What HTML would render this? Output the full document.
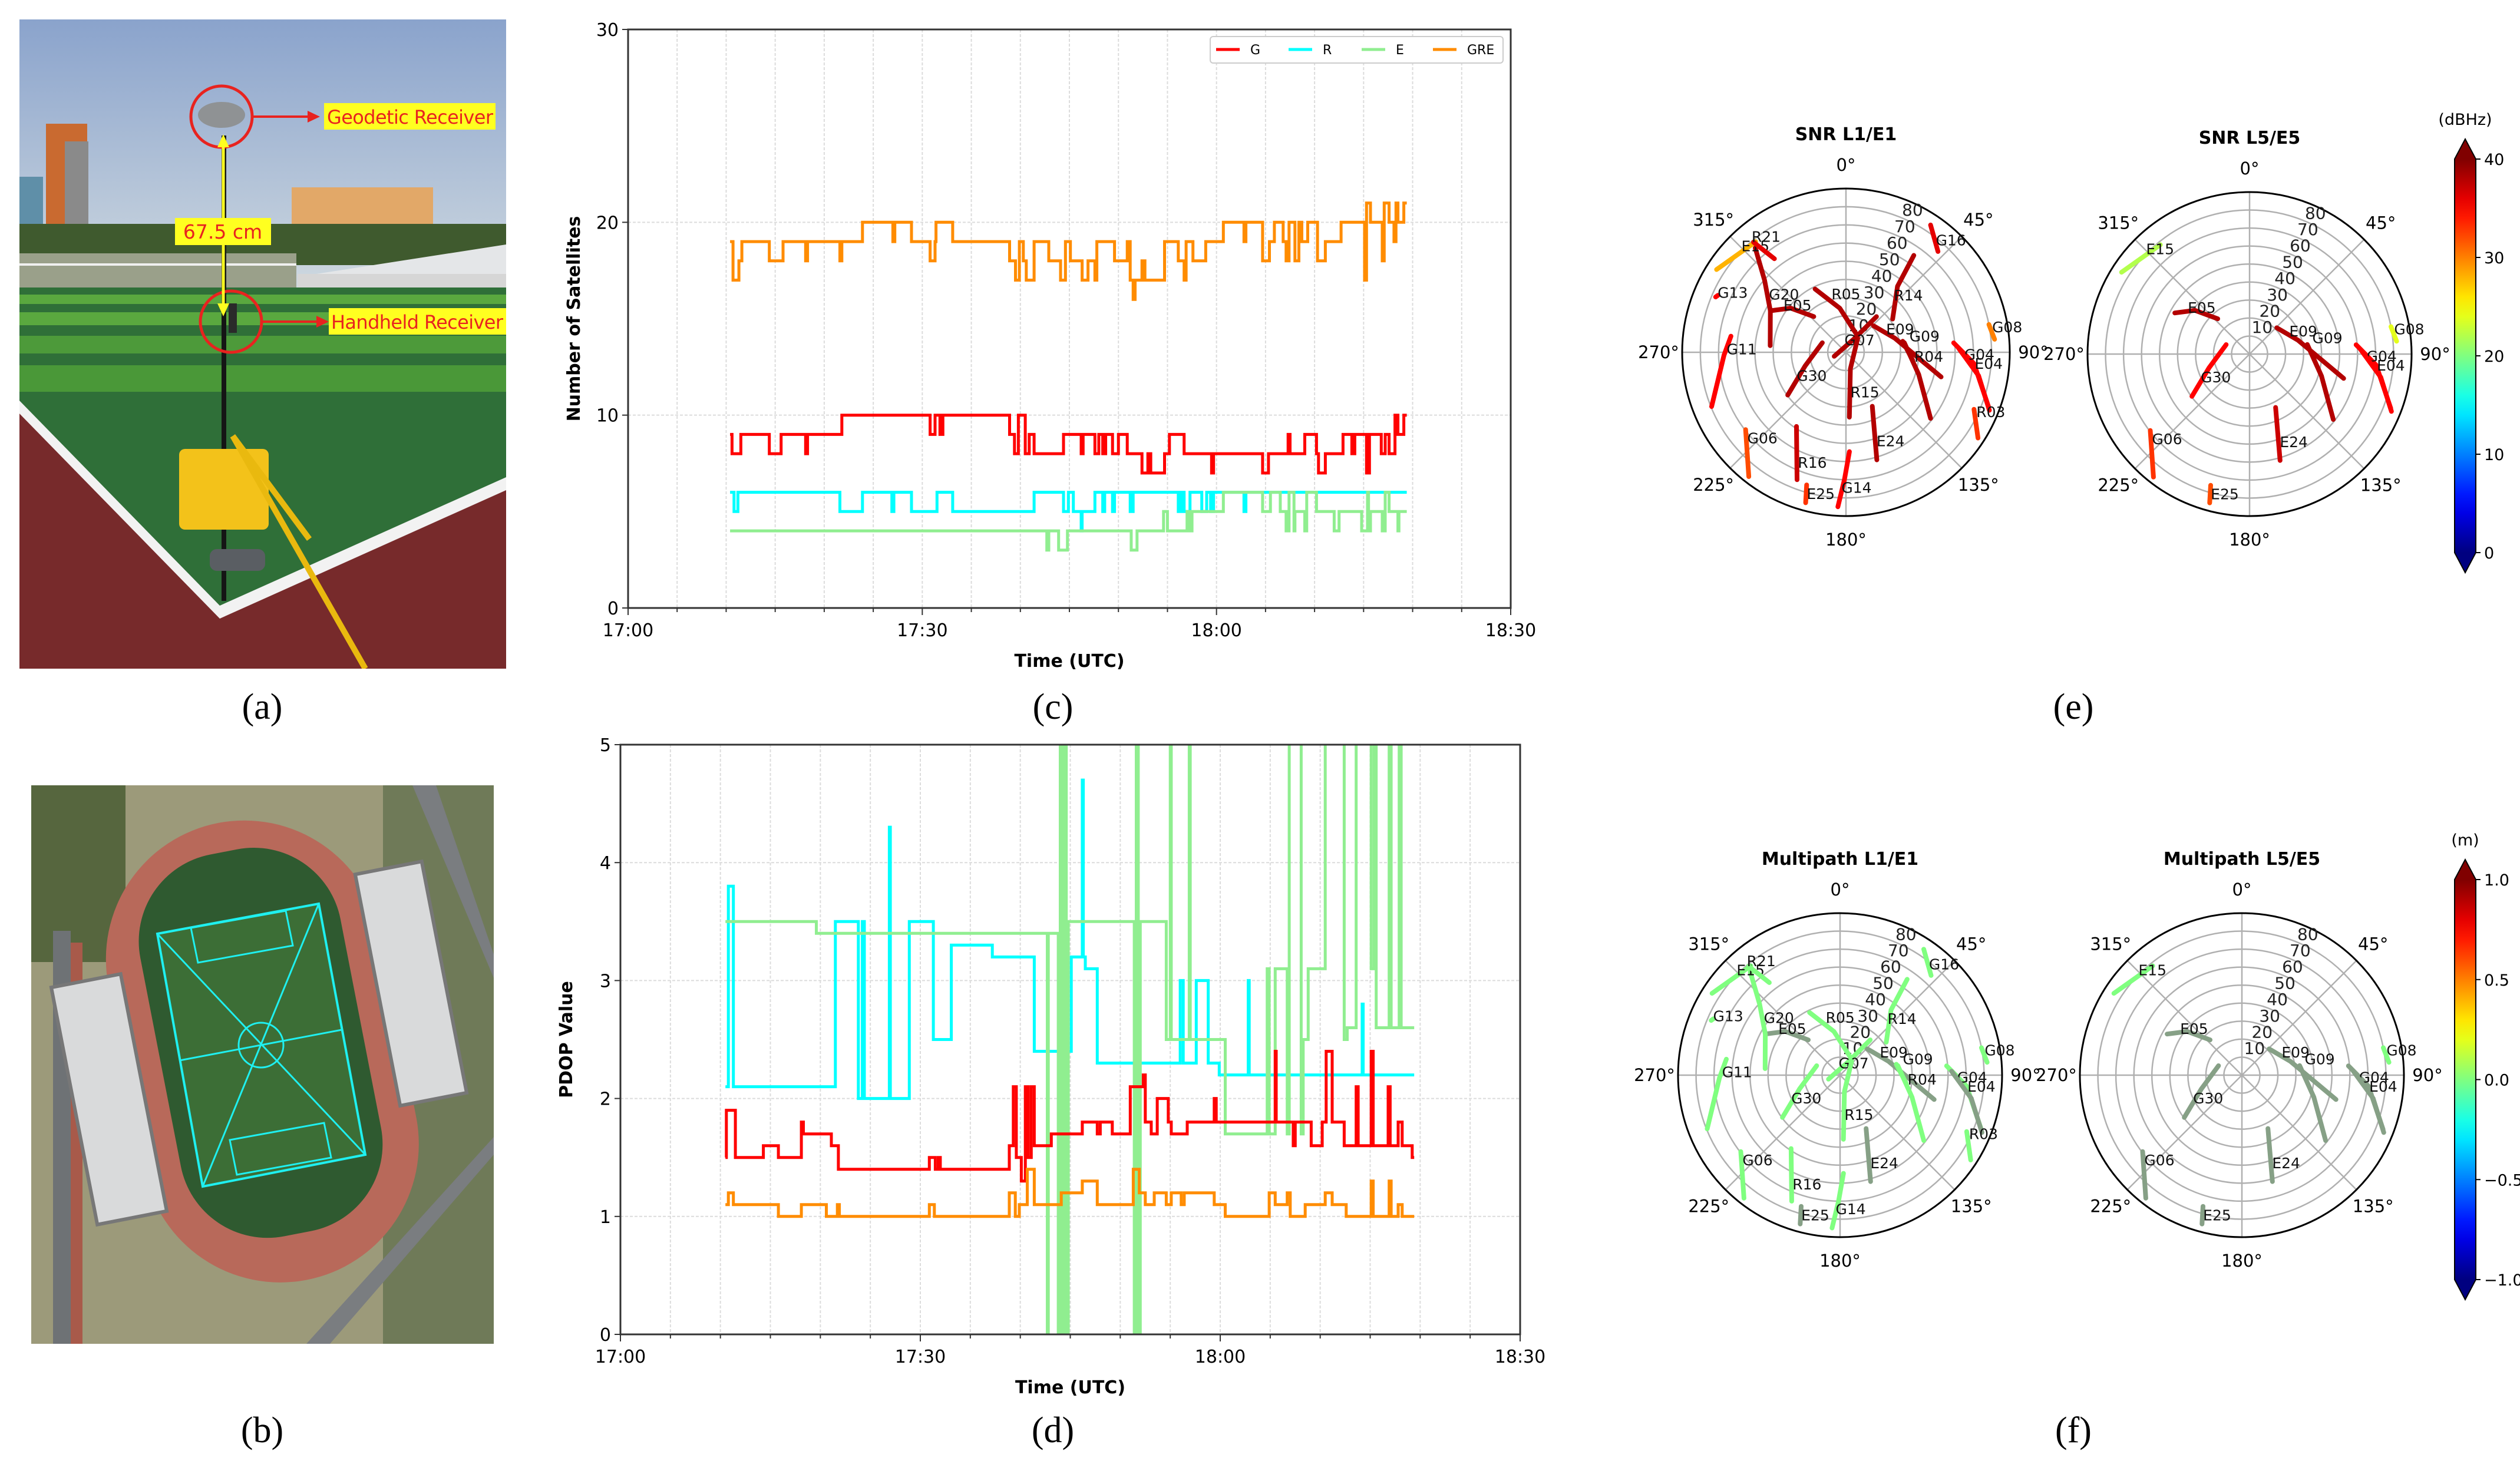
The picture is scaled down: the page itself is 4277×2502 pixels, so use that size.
<!DOCTYPE html>
<html><head><meta charset="utf-8"><style>
html,body{margin:0;padding:0;background:#fff}
svg{display:block}
text{font-family:"DejaVu Sans","Liberation Sans",sans-serif}
</style></head><body>
<svg id="fig" xmlns="http://www.w3.org/2000/svg" width="4277" height="2502" viewBox="0 0 4277 2502">
<defs>
<linearGradient id="sky" x1="0" y1="0" x2="0" y2="1"><stop offset="0" stop-color="#8aa3cc"/><stop offset="1" stop-color="#cfd9e0"/></linearGradient>
<clipPath id="clipA"><rect x="33" y="33" width="826" height="1102"/></clipPath>
<clipPath id="clipB"><rect x="53" y="1333" width="785" height="948"/></clipPath>
<clipPath id="clipC"><rect x="1066" y="50" width="1498" height="982"/></clipPath>
<clipPath id="clipD"><rect x="1053" y="1264" width="1527" height="1001"/></clipPath>
</defs>

<!-- Panel (a) photo -->
<g id="photo-a" clip-path="url(#clipA)">
<rect x="33" y="33" width="826" height="460" fill="url(#sky)"/>
<rect x="33" y="300" width="40" height="100" fill="#5f8fa8"/>
<rect x="78" y="210" width="70" height="185" fill="#c96a30"/>
<rect x="110" y="240" width="40" height="150" fill="#8a8a8a"/>
<rect x="495" y="318" width="240" height="80" fill="#e2a868"/>
<rect x="33" y="380" width="826" height="70" fill="#3f5a2e"/>
<rect x="33" y="430" width="470" height="60" fill="#9aa08a"/>
<rect x="33" y="447" width="470" height="4" fill="#f0f0f0"/>
<polygon points="505,470 859,415 859,493 505,493" fill="#e4e6e8"/>
<rect x="505" y="465" width="354" height="28" fill="#d6d6d6"/>
<rect x="33" y="488" width="826" height="647" fill="#2f6f38"/>
<rect x="33" y="500" width="826" height="16" fill="#5aa83f"/>
<rect x="33" y="530" width="826" height="22" fill="#5aa83f"/>
<rect x="33" y="570" width="826" height="30" fill="#4d9a3a"/>
<rect x="33" y="620" width="826" height="45" fill="#4a9838"/>
<polygon points="33,680 373,1028 859,810 859,1135 33,1135" fill="#f2f2f2"/>
<polygon points="33,702 373,1050 859,832 859,1135 33,1135" fill="#772a2b"/>
<rect x="376" y="230" width="8" height="790" fill="#151515"/>
<rect x="304" y="762" width="152" height="137" rx="10" fill="#f3c21a"/>
<rect x="356" y="932" width="94" height="37" rx="12" fill="#5a5e63"/>
<line x1="395" y1="740" x2="620" y2="1135" stroke="#e9b90f" stroke-width="10"/>
<line x1="395" y1="740" x2="525" y2="915" stroke="#e9b90f" stroke-width="10"/>
<ellipse cx="376" cy="195" rx="40" ry="22" fill="#8f9294"/>
<rect x="388" y="515" width="14" height="50" fill="#2a2a2a"/>
<circle cx="376" cy="198" r="52" fill="none" stroke="#e8231f" stroke-width="5"/>
<circle cx="392" cy="546" r="52" fill="none" stroke="#e8231f" stroke-width="5"/>
<line x1="379" y1="240" x2="379" y2="525" stroke="#ffff20" stroke-width="5"/>
<polygon points="379,228 369,250 389,250" fill="#ffff20"/>
<polygon points="379,537 369,515 389,515" fill="#ffff20"/>
<line x1="428" y1="198" x2="525" y2="198" stroke="#e8231f" stroke-width="4"/>
<polygon points="543,198 522,188 522,208" fill="#e8231f"/>
<line x1="445" y1="546" x2="540" y2="546" stroke="#e8231f" stroke-width="4"/>
<polygon points="558,546 537,536 537,556" fill="#e8231f"/>
<rect x="550" y="175" width="291" height="45" fill="#ffff20"/>
<text x="555" y="210" font-family="Liberation Sans" font-size="32" fill="#e8231f" textLength="282">Geodetic Receiver</text>
<rect x="297" y="370" width="163" height="46" fill="#ffff20"/>
<text x="378" y="405" font-family="Liberation Sans" font-size="33" fill="#e8231f" text-anchor="middle">67.5 cm</text>
<rect x="558" y="523" width="301" height="45" fill="#ffff20"/>
<text x="562" y="558" font-family="Liberation Sans" font-size="32" fill="#e8231f" textLength="292">Handheld Receiver</text>
</g>

<!-- Panel (b) aerial -->
<g id="photo-b" clip-path="url(#clipB)">
<rect x="53" y="1333" width="785" height="948" fill="#9c9a7a"/>
<rect x="53" y="1333" width="160" height="300" fill="#56663e"/>
<rect x="650" y="1333" width="188" height="948" fill="#6f7a58"/>
<polygon points="700,1333 740,1333 838,1620 838,1660" fill="#7a7d80"/>
<polygon points="520,2281 838,1930 838,1960 560,2281" fill="#7a7d80"/>
<rect x="90" y="1580" width="30" height="701" fill="#6e7275"/>
<rect x="120" y="1600" width="20" height="681" fill="#a85a4a"/>
<g transform="rotate(-11 443 1773)">
<rect x="208" y="1390" width="470" height="790" rx="235" fill="#b8695a"/>
<rect x="270" y="1440" width="346" height="660" rx="150" fill="#2f5a30"/>
</g>
<g transform="rotate(-11 443 1773)">
<rect x="112" y="1610" width="120" height="410" fill="#d9dadb" stroke="#777" stroke-width="6"/>
<rect x="655" y="1520" width="115" height="400" fill="#d9dadb" stroke="#777" stroke-width="6"/>
</g>
<polygon points="267,1585 541,1534 620,1960 344,2014" fill="#3c6e36" stroke="#1ff0f0" stroke-width="4"/>
<line x1="267" y1="1585" x2="620" y2="1960" stroke="#1ff0f0" stroke-width="3"/>
<line x1="541" y1="1534" x2="344" y2="2014" stroke="#1ff0f0" stroke-width="3"/>
<line x1="305" y1="1800" x2="580" y2="1748" stroke="#1ff0f0" stroke-width="3"/>
<circle cx="443" cy="1774" r="38" fill="none" stroke="#1ff0f0" stroke-width="3"/>
<polygon points="324,1575 485,1546 497,1605 336,1634" fill="none" stroke="#1ff0f0" stroke-width="3"/>
<polygon points="390,1935 550,1906 562,1965 402,1994" fill="none" stroke="#1ff0f0" stroke-width="3"/>
</g>

<!-- panel letters -->
<g font-family="Liberation Serif" font-size="62" text-anchor="middle" fill="#000">
<text x="445" y="1220" style="font-family:'Liberation Serif',serif">(a)</text>
<text x="445" y="2448" style="font-family:'Liberation Serif',serif">(b)</text>
<text x="1787" y="1220" style="font-family:'Liberation Serif',serif">(c)</text>
<text x="1787" y="2448" style="font-family:'Liberation Serif',serif">(d)</text>
<text x="3519" y="1220" style="font-family:'Liberation Serif',serif">(e)</text>
<text x="3519" y="2448" style="font-family:'Liberation Serif',serif">(f)</text>
</g>
<g id="charts"></g>
</svg>
<script>
// ---------- Chart (c): number of satellites (time in minutes after 17:00) ----------
const tEnd = 79.4;
const satG_t = [10.4,10.6,11.5,14.4,15.6,18.1,18.3,21.8,30.8,31.3,31.8,32.1,38.9,39.4,39.8,40.5,40.9,41.4,44.4,46.2,46.4,47.6,48.0,48.4,48.7,49.4,50.0,50.9,52.4,53.0,53.3,54.7,55.2,56.7,59.5,59.7,64.7,65.3,67.3,67.5,69.0,70.2,70.4,71.1,72.9,73.8,74.1,75.3,75.6,76.8,77.2,77.6,78.2,78.5,79.1];
const satG_v = [9,8,9,8,9,8,9,10,9,10,9,10,9,8,10,8,9,8,9,8,9,8,9,8,9,8,9,8,7,8,7,8,9,8,7,8,7,8,9,8,9,8,7,8,9,8,9,7,9,8,9,8,10,9,10];
const satR_t = [10.4,10.8,11.2,21.6,23.9,26.9,27.1,28.9,31.5,33.1,41.4,44.4,44.9,45.4,46.2,46.3,47.6,48.4,48.6,49.4,49.6,51.2,51.5,56.1,56.4,56.7,57.3,58.5,59.0,59.4,59.7,62.8,63.0];
const satR_v = [6,5,6,5,6,5,6,5,6,5,6,5,6,5,4,5,6,5,6,5,6,5,6,5,6,5,6,5,6,5,6,5,6];
const satE_t = [10.4,42.7,42.9,43.9,44.8,51.3,51.9,54.6,55.0,57.0,57.3,57.5,60.7,64.7,65.5,66.5,67.1,67.4,67.9,68.0,69.0,69.2,70.2,72.0,72.5,74.8,75.4,75.5,75.7,76.9,77.2,77.6,78.5,78.6];
const satE_v = [4,3,4,3,4,3,4,5,4,5,4,5,6,5,6,5,4,6,4,5,4,6,5,4,5,4,6,4,5,4,6,5,4,5];
const satGRE_t = [10.4,10.7,11.3,11.6,14.4,15.8,18.1,18.3,21.6,21.8,23.9,27.0,27.2,28.9,30.8,31.3,31.4,33.1,38.9,39.5,39.9,40.3,40.6,41.4,42.9,44.1,44.6,45.1,46.3,46.9,47.6,47.8,49.6,50.9,51.2,51.5,51.7,52.4,52.7,54.7,56.1,56.7,56.9,57.6,58.9,60.7,62.8,63.0,64.7,65.4,65.9,66.8,67.1,67.4,68.0,68.4,68.7,69.3,70.3,71.1,72.7,75.1,75.3,75.7,76.9,77.1,77.6,78.1,78.3,78.5,79.1];
const satGRE_v = [19,17,18,19,18,19,18,19,18,19,20,19,20,19,18,19,20,19,18,17,19,18,17,19,18,17,19,18,17,18,17,19,18,19,17,16,17,18,17,19,18,17,19,18,19,20,19,20,18,19,20,19,18,20,18,20,19,20,18,19,20,17,21,20,18,21,20,19,21,20,21];
const cYTicks = [0,10,20,30];
const xTickLabels = ["17:00","17:30","18:00","18:30"];
const xTickMinutes = [0,30,60,90];

// ---------- Chart (d): PDOP ----------
const pdG_t = [10.5,10.6,11.5,14.3,15.8,18.1,18.3,21.1,21.8,30.9,31.5,31.8,32.0,38.9,39.3,39.6,40.1,40.5,40.8,41.1,41.4,43.1,46.2,47.7,48.0,49.2,51.0,52.3,52.5,53.1,53.7,54.8,55.1,56.7,59.4,59.6,65.5,65.6,67.3,67.5,69.1,70.2,70.6,71.2,72.4,73.6,73.8,75.1,75.3,76.8,77.0,77.8,78.2,79.2];
const pdG_v = [1.5,1.9,1.5,1.6,1.5,1.8,1.7,1.6,1.4,1.5,1.4,1.5,1.4,1.6,2.1,1.5,1.3,2.1,1.5,2.1,1.6,1.7,1.8,1.7,1.8,1.7,2.1,2.2,1.8,1.7,2.0,1.8,1.7,1.8,2.0,1.8,2.4,1.8,1.6,1.8,1.6,1.8,2.4,1.8,1.6,2.1,1.6,2.4,1.6,2.1,1.6,1.8,1.6,1.5];
const pdR_t = [10.5,10.8,11.3,21.5,23.8,24.2,24.4,26.9,27.0,28.9,31.3,33.1,37.2,41.4,45.1,46.2,46.3,46.5,47.7,56.0,56.3,57.6,58.8,59.9,62.8,62.9,74.2,74.3];
const pdR_v = [2.1,3.8,2.1,3.5,2.0,3.5,2.0,4.3,2.0,3.5,2.5,3.3,3.2,2.4,3.2,4.7,3.2,3.1,2.3,3.0,2.3,3.0,2.3,2.2,3.0,2.2,2.8,2.2];
const pdE_t = [10.5,19.6,42.7,42.8,43.8,44.0,44.2,44.4,44.6,44.8,51.4,51.6,51.8,52.0,54.6,55.0,55.1,56.9,57.0,60.5,64.7,64.9,65.5,66.7,66.9,68.1,68.3,68.8,70.5,72.4,72.7,73.6,75.1,75.4,75.6,76.9,77.1,77.9,78.1];
const pdE_v = [3.5,3.4,0,3.4,0,9,0,9,0,3.5,0,9,0,3.5,2.5,9,2.5,9,2.5,1.7,3.1,1.7,3.1,1.7,9,1.7,2.5,3.1,9,2.5,2.6,9,3.1,9,2.6,9,2.6,9,2.6];
const pdGRE_t = [10.5,10.8,11.3,15.8,18.1,20.6,21.7,21.9,30.9,31.4,38.9,39.5,39.9,40.7,41.4,44.1,46.2,47.7,51.3,51.9,52.5,53.4,54.6,55.1,56.1,56.4,59.4,60.5,64.9,65.5,66.7,67.0,68.5,70.5,71.2,72.6,75.1,75.3,76.9,77.1,77.8,78.2];
const pdGRE_v = [1.1,1.2,1.1,1.0,1.1,1.0,1.1,1.0,1.1,1.0,1.2,1.0,1.1,1.4,1.1,1.2,1.3,1.1,1.4,1.2,1.1,1.2,1.1,1.2,1.1,1.2,1.1,1.0,1.2,1.1,1.2,1.0,1.1,1.2,1.1,1.0,1.3,1.0,1.3,1.0,1.1,1.0];
const dYTicks = [0,1,2,3,4,5];

// ---------- Skyplots (azimuth deg, radial value = ring label) ----------
const satNames = ["G16","R14","R05","G07","E09","G09","R04","G08","G04","E04","R03","E24","R15","G14","E25","R16","G06","G11","G13","G30","E05","G20","E15","R21"];
const satAz = [[33.6,42.4],[54.5,38,35],[334,352,35.5],[251,32,40.5],[46,74,104.5],[80.6,107,128],[79,97],[79,85],[85,95,111],[88,100,112],[114,123],[154,164],[40,165,177],[178,180.7,183],[196.5,195],[213.7,201],[232.4,218],[278,268.7,248],[293,294],[292,251.4,233.7],[298.8,308.6,318],[319,311.5,298.8,275],[302.6,320.8],[320,322.6]];
const satEl = [[84,75],[31.5,46,65],[38.7,24.5,11],[6.8,9,25.8],[21,28,54],[32.5,41.8,59],[31.8,37],[80,82],[59.4,70.6,84],[62,74,85],[77,86.5],[33,61.5],[10,9.4,35.7],[54.6,70,85],[76,85.6],[49,75],[69.6,86.7],[63.8,67,79.6],[77.8,77],[14,23.7,39.7],[47.4,38.9,26.4],[76,59.7,47.4,41.8],[84.4,78.4],[79,64.7]];
const labelAz = [38.7,40,346,353,59.8,75.6,93.4,80.2,91,95,114.5,161,173.7,181.9,195.5,203.6,229,271.6,295,244.7,307,307,315.5,320.8];
const labelEl = [79,41,33,6.8,25.5,36,37.6,81.5,65,71,78.7,51.6,22,74.3,80.6,66,71.8,65.6,77.8,30,43,53,82,82];
const snrL1 = [36,38,38,38,38,38,38,30,35,35,33,38,38,35,33,37,32,35,35,38,38,38,28,36];
const snrL5 = [null,null,null,null,38,38,null,24,35,35,null,37,null,null,32,null,33,null,null,35,38,null,22,null];
const mpL1 = [0.0,0.0,0.0,0.0,"mix",0.0,0.0,0.0,0.0,"mix",0.0,"mix",0.0,0.0,"mix",0.0,0.0,0.0,0.0,0.0,"mix",0.0,0.0,0.0];
const mpL5 = [null,null,null,null,"mix","mix",null,0.0,"mix","mix",null,"mix",null,null,"mix",null,"mix",null,null,"mix","mix",null,0.0,null];
const ringLabels = [10,20,30,40,50,60,70,80];
const snrTicks = [0,10,20,30,40];
const mpTicks = [-1.0,-0.5,0.0,0.5,1.0];

const NS = "http://www.w3.org/2000/svg";
const root = document.getElementById("charts");
function mk(tag, attrs, parent) {
  const e = document.createElementNS(NS, tag);
  for (const k in attrs) e.setAttribute(k, attrs[k]);
  (parent || root).appendChild(e);
  return e;
}
function clamp(v){return Math.max(0,Math.min(1,v));}
function jet(v){
  const r=clamp(1.5-Math.abs(4*v-3)), g=clamp(1.5-Math.abs(4*v-2)), b=clamp(1.5-Math.abs(4*v-1));
  return "rgb("+Math.round(r*255)+","+Math.round(g*255)+","+Math.round(b*255)+")";
}

function lineChart(cfg) {
  const g = mk("g", {});
  
  
  const X = t => cfg.x0 + t/90*(cfg.x1-cfg.x0);
  const Y = v => cfg.y1 - (v-cfg.ymin)/(cfg.ymax-cfg.ymin)*(cfg.y1-cfg.y0);
  mk("rect", {x:cfg.x0,y:cfg.y0,width:cfg.x1-cfg.x0,height:cfg.y1-cfg.y0,fill:"#fff"}, g);
  for (let m=0;m<=90;m+=5) {
    const gl = mk("line",{x1:X(m),x2:X(m),y1:cfg.y0,y2:cfg.y1,stroke:"#dcdcdc","stroke-width":2,"stroke-dasharray":"5,3"},g);
    
    
    mk("line",{x1:X(m),x2:X(m),y1:cfg.y1,y2:cfg.y1+(m%30===0?12:7),stroke:"#333","stroke-width":2},g);
  }
  cfg.yTicks.forEach(v=>{
    const gl = mk("line",{x1:cfg.x0,x2:cfg.x1,y1:Y(v),y2:Y(v),stroke:"#dcdcdc","stroke-width":2,"stroke-dasharray":"5,3"},g);
    
    
    mk("line",{x1:cfg.x0-10,x2:cfg.x0,y1:Y(v),y2:Y(v),stroke:"#333","stroke-width":2},g);
    const t = mk("text",{x:cfg.x0-16,y:Y(v)+11,"font-size":30,"text-anchor":"end",fill:"#000"},g);
    t.textContent = String(v);
    
    
  });
  xTickMinutes.forEach((m,i)=>{
    const t = mk("text",{x:X(m),y:cfg.y1+48,"font-size":30,"text-anchor":"middle",fill:"#000"},g);
    t.textContent = xTickLabels[i];
    
    
  });
  const cg = mk("g",{"clip-path":"url(#"+cfg.clip+")"},g);
  cfg.series.forEach(s=>{
    let d = "M"+X(s.t[0]).toFixed(1)+" "+Y(s.v[0]).toFixed(1);
    for (let i=1;i<s.t.length;i++){ d += " H"+X(s.t[i]).toFixed(1)+" V"+Y(s.v[i]).toFixed(1); }
    d += " H"+X(tEnd).toFixed(1);
    const p = mk("path",{d:d,fill:"none",stroke:s.color,"stroke-width":5,"stroke-linejoin":"miter"},cg);
    
    
  });
  mk("rect",{x:cfg.x0,y:cfg.y0,width:cfg.x1-cfg.x0,height:cfg.y1-cfg.y0,fill:"none",stroke:"#333","stroke-width":3},g);
  const xt = mk("text",{x:(cfg.x0+cfg.x1)/2,y:cfg.y1+100,"font-size":30,"font-weight":"bold","text-anchor":"middle"},g);
  xt.textContent = "Time (UTC)";
  
  
  const yx = cfg.x0-82, yy=(cfg.y0+cfg.y1)/2;
  const yt = mk("text",{x:yx,y:yy,"font-size":30,"font-weight":"bold","text-anchor":"middle",transform:"rotate(-90 "+yx+" "+yy+")"},g);
  yt.textContent = cfg.ytitle;
  
  
  return g;
}

const colG="#ff0000", colR="#00ffff", colE="#90ee90", colGRE="#ff8c00";
lineChart({name:"satellite-count-chart",x0:1066,x1:2564,y0:50,y1:1032,ymin:0,ymax:30,yTicks:cYTicks,clip:"clipC",ytitle:"Number of Satellites",
  series:[{name:"series-G",t:satG_t,v:satG_v,color:colG},{name:"series-R",t:satR_t,v:satR_v,color:colR},{name:"series-E",t:satE_t,v:satE_v,color:colE},{name:"series-GRE",t:satGRE_t,v:satGRE_v,color:colGRE}]});
lineChart({name:"pdop-chart",x0:1053,x1:2580,y0:1264,y1:2265,ymin:0,ymax:5,yTicks:dYTicks,clip:"clipD",ytitle:"PDOP Value",
  series:[{name:"pdop-R",t:pdR_t,v:pdR_v,color:colR},{name:"pdop-E",t:pdE_t,v:pdE_v,color:colE},{name:"pdop-G",t:pdG_t,v:pdG_v,color:colG},{name:"pdop-GRE",t:pdGRE_t,v:pdGRE_v,color:colGRE}]});

// legend
const lg = mk("g",{});


mk("rect",{x:2054,y:62,width:497,height:45,rx:5,fill:"#fff",stroke:"#ccc","stroke-width":2},lg);
const legNames=["G","R","E","GRE"], legCols=[colG,colR,colE,colGRE], legX=[2064,2187,2311,2432];
legNames.forEach((n,i)=>{
  const e = mk("g",{},lg);
  
  
  mk("line",{x1:legX[i],x2:legX[i]+40,y1:84,y2:84,stroke:legCols[i],"stroke-width":5},e);
  const t = mk("text",{x:legX[i]+58,y:92,"font-size":22},e);
  t.textContent=n;
});

// skyplots
function skyplot(cfg){
  const g = mk("g",{});
  
  
  const cx=cfg.cx, cy=cfg.cy, R=cfg.R;
  const P = (az,el)=>[cx+Math.sin(az*Math.PI/180)*el/90*R, cy-Math.cos(az*Math.PI/180)*el/90*R];
  mk("circle",{cx:cx,cy:cy,r:R,fill:"#fff"},g);
  ringLabels.forEach(v=>mk("circle",{cx:cx,cy:cy,r:v/90*R,fill:"none",stroke:"#b0b0b0","stroke-width":2.5},g));
  for(let a=0;a<360;a+=45){const p=P(a,90);mk("line",{x1:cx,y1:cy,x2:p[0],y2:p[1],stroke:"#b0b0b0","stroke-width":2.5},g);}
  mk("circle",{cx:cx,cy:cy,r:R,fill:"none",stroke:"#000","stroke-width":3},g);
  for(let a=0;a<360;a+=45){
    const p=P(a,90*(R+40)/R);
    const t=mk("text",{x:p[0],y:p[1]+10,"font-size":29,"text-anchor":"middle"},g);
    t.textContent=a+"°";
  }
  ringLabels.forEach(v=>{
    const p=P(25,v+20/R*90);
    const t=mk("text",{x:p[0],y:p[1]+10,"font-size":28,"text-anchor":"middle",fill:"#222"},g);
    t.textContent=String(v);
  });
  const tt=mk("text",{x:cx,y:cy-R-82,"font-size":30,"font-weight":"bold","text-anchor":"middle"},g);
  tt.textContent=cfg.title;
  
  
  satNames.forEach((n,i)=>{
    const val = cfg.values[i];
    if(val===null) return;
    const col = val==="mix" ? "#86a086" : jet((val-cfg.vmin)/(cfg.vmax-cfg.vmin));
    const pts = satAz[i].map((a,k)=>P(a,satEl[i][k]).map(z=>z.toFixed(1)).join(",")).join(" ");
    const pl = mk("polyline",{points:pts,fill:"none",stroke:col,"stroke-width":8,"stroke-linecap":"round","stroke-linejoin":"round"},g);
    
    
    const lp = P(labelAz[i],labelEl[i]);
    const t = mk("text",{x:lp[0],y:lp[1]+9,"font-size":25,fill:"#111"},g);
    t.textContent=n;
    
    
  });
}
skyplot({name:"snr-l1-skyplot",cx:3133,cy:598,R:278,title:"SNR L1/E1",values:snrL1,vmin:0,vmax:40});
skyplot({name:"snr-l5-skyplot",cx:3818,cy:601,R:275,title:"SNR L5/E5",values:snrL5,vmin:0,vmax:40});
skyplot({name:"multipath-l1-skyplot",cx:3123,cy:1825,R:275,title:"Multipath L1/E1",values:mpL1,vmin:-1,vmax:1});
skyplot({name:"multipath-l5-skyplot",cx:3805,cy:1825,R:275,title:"Multipath L5/E5",values:mpL5,vmin:-1,vmax:1});

function colorbar(cfg){
  const g=mk("g",{});
  
  
  const id="grad"+cfg.name;
  const lgd=mk("linearGradient",{id:id,x1:0,y1:1,x2:0,y2:0},g);
  for(let i=0;i<=20;i++) mk("stop",{offset:i/20,"stop-color":jet(i/20)},lgd);
  const x0=4166,x1=4202,w=x1-x0;
  mk("rect",{x:x0,y:cfg.top,width:w,height:cfg.bot-cfg.top,fill:"url(#"+id+")"},g);
  mk("polygon",{points:x0+","+cfg.top+" "+x1+","+cfg.top+" "+(x0+w/2)+","+(cfg.top-34),fill:"#800000"},g);
  mk("polygon",{points:x0+","+cfg.bot+" "+x1+","+cfg.bot+" "+(x0+w/2)+","+(cfg.bot+34),fill:"#000080"},g);
  mk("polygon",{points:x0+","+cfg.top+" "+(x0+w/2)+","+(cfg.top-34)+" "+x1+","+cfg.top+" "+x1+","+cfg.bot+" "+(x0+w/2)+","+(cfg.bot+34)+" "+x0+","+cfg.bot,fill:"none",stroke:"#000","stroke-width":2},g);
  cfg.ticks.forEach(v=>{
    const y=cfg.bot-(v-cfg.ticks[0])/(cfg.ticks[cfg.ticks.length-1]-cfg.ticks[0])*(cfg.bot-cfg.top);
    mk("line",{x1:x1,x2:x1+8,y1:y,y2:y,stroke:"#000","stroke-width":2},g);
    const t=mk("text",{x:x1+14,y:y+10,"font-size":27},g);
    t.textContent=cfg.fmt(v);
  });
  const u=mk("text",{x:x0+w/2,y:cfg.top-58,"font-size":27,"text-anchor":"middle"},g);
  u.textContent=cfg.unit;
}
colorbar({name:"snr-colorbar",top:270,bot:938,ticks:snrTicks,fmt:v=>String(v),unit:"(dBHz)"});
colorbar({name:"multipath-colorbar",top:1493,bot:2172,ticks:mpTicks,fmt:v=>(v<0?"\u2212":"")+Math.abs(v).toFixed(1),unit:"(m)"});
</script>
</body></html>
